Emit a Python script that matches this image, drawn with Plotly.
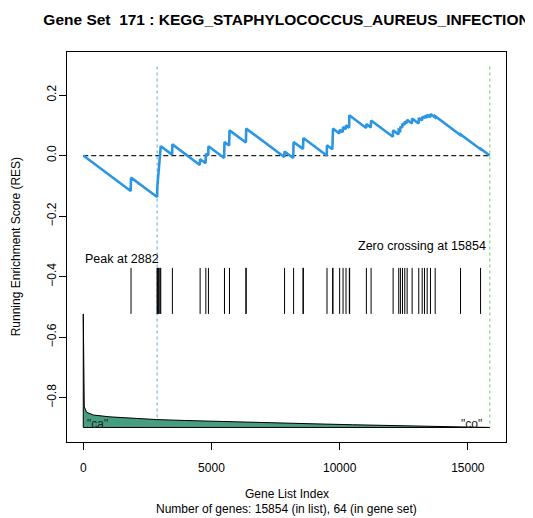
import plotly.graph_objects as go

# ---------------- data ----------------
n_genes = 15854
n_in_set = 64
peak_index = 2882
zero_cross = 15854

# running enrichment score vertices (gene index, RES)
res_x = [0, 1850, 1863, 2882, 2890, 2960, 3023, 3465, 3476, 4545, 4558, 4770, 4781,
         4875, 4883, 5495, 5508, 5690, 5703, 6343, 6355, 7840, 7851, 8190, 8203,
         8570, 8585, 9495, 9507, 9715, 9726, 9740, 9990, 10000, 10120, 10132, 10240,
         10249, 10370, 10378, 11035, 11043, 11215, 11226, 12075, 12085, 12295, 12304,
         12360, 12370, 12440, 12450, 12530, 12540, 12620, 12632, 12820, 12827, 13080,
         13085, 13210, 13218, 13300, 13308, 13405, 13413, 13535, 13542, 13720, 13726,
         14705, 14715, 15490, 15496, 15854]
res_y = [0.0, -0.117, -0.073, -0.137, -0.103, -0.037, 0.031, 0.003, 0.037, -0.031,
         -0.012, -0.025, 0.006, 0.000, 0.031, -0.008, 0.045, 0.033, 0.083, 0.043,
         0.089, -0.005, 0.013, -0.008, 0.045, 0.022, 0.058, 0.000, 0.034, 0.021,
         0.045, 0.089, 0.073, 0.085, 0.077, 0.094, 0.087, 0.100, 0.092, 0.133,
         0.091, 0.104, 0.093, 0.116, 0.062, 0.083, 0.070, 0.085, 0.082, 0.096,
         0.092, 0.106, 0.101, 0.112, 0.107, 0.118, 0.106, 0.122, 0.106, 0.124,
         0.116, 0.128, 0.123, 0.131, 0.125, 0.135, 0.127, 0.137, 0.126, 0.130,
         0.068, 0.070, 0.021, 0.0227, 0.0]

# positions of gene-set members in the ranked list
hit_index = [1863, 2883, 2890, 2930, 2960, 3000, 3023, 3476, 4558, 4781, 4883, 5508,
             5703, 6343, 6355, 7851, 8203, 8570, 8585, 9507, 9726, 9740, 10000, 10132,
             10249, 10378, 10390, 11043, 11226, 12085, 12304, 12370, 12450, 12540,
             12632, 12827, 13085, 13218, 13308, 13413, 13542, 13726, 14715, 15496]
hit_top = -0.371
hit_bottom = -0.523

# ranked-list metric profile (scaled to the plot's y units)
metric_x = [0, 10, 40, 130, 400, 1043, 2000, 2867, 4000, 5500, 7293, 9000, 10500,
            12490, 14000, 15854]
metric_y = [-0.523, -0.78, -0.83, -0.848, -0.857, -0.863, -0.868, -0.872, -0.875,
            -0.879, -0.883, -0.886, -0.889, -0.892, -0.894, -0.897]
metric_base = -0.898

vline_top = 0.294

x_ticks = [0, 5000, 10000, 15000]
y_ticks = [0.2, 0.0, -0.2, -0.4, -0.6, -0.8]
y_tick_text = ["0.2", "0.0", "\u22120.2", "\u22120.4", "\u22120.6", "\u22120.8"]

title_text = "Gene Set \u00a0171 : KEGG_STAPHYLOCOCCUS_AUREUS_INFECTION"
class_a = '"ca"'
class_b = '"co"'

FONT = "Liberation Sans, Arial, Helvetica, sans-serif"

# page offset of the plot div (browser body margin)
OFF = 8
W, H = 533 - OFF, 518 - OFF
PLOT_L, PLOT_R, PLOT_T, PLOT_B = 66.7, 506.0, 51.5, 442.4   # page pixels
plot_w = PLOT_R - PLOT_L
plot_h = PLOT_B - PLOT_T

fig = go.Figure()

fig.add_trace(go.Scatter(x=[peak_index, peak_index], y=[vline_top, metric_base],
                         mode="lines", line=dict(color="#86bbec", width=1.3, dash="dot"),
                         hoverinfo="skip"))
fig.add_trace(go.Scatter(x=[zero_cross, zero_cross], y=[vline_top, metric_base],
                         mode="lines", line=dict(color="#8fd98a", width=1.3, dash="dot"),
                         hoverinfo="skip"))

fig.add_trace(go.Scatter(x=[0, n_genes], y=[0, 0], mode="lines",
                         line=dict(color="#222222", width=1.3, dash="5px,3px"),
                         hoverinfo="skip"))

fig.add_trace(go.Scatter(x=res_x, y=res_y, mode="lines",
                         line=dict(color="#2b97e3", width=2.6)))

bx, by = [], []
for h in hit_index:
    bx += [h, h, None]
    by += [hit_top, hit_bottom, None]
fig.add_trace(go.Scatter(x=bx, y=by, mode="lines",
                         line=dict(color="black", width=1), hoverinfo="skip"))

px_ = metric_x + [metric_x[-1], metric_x[0], metric_x[0]]
py_ = metric_y + [metric_base, metric_base, metric_y[0]]
fig.add_trace(go.Scatter(x=px_, y=py_, mode="lines", fill="toself",
                         fillcolor="#479d7f", line=dict(color="black", width=1)))

ann = [
    dict(x=0, y=-0.342, xref="x", yref="y", text="Peak at 2882", showarrow=False,
         xanchor="left", yanchor="middle", font=dict(size=12.5)),
    dict(x=15800, y=-0.299, xref="x", yref="y", text="Zero crossing at 15854",
         showarrow=False, xanchor="right", yanchor="middle", font=dict(size=12.5)),
    dict(x=60, y=-0.886, xref="x", yref="y", text=class_a, showarrow=False,
         xanchor="left", yanchor="middle", font=dict(size=12, color="#222")),
    dict(x=15640, y=-0.886, xref="x", yref="y", text=class_b, showarrow=False,
         xanchor="right", yanchor="middle", font=dict(size=12, color="#222")),
    dict(x=0.5, y=-(495 - PLOT_B) / plot_h, xref="paper", yref="paper",
         text="Gene List Index", showarrow=False, xanchor="center", yanchor="middle",
         font=dict(size=12)),
    dict(x=0.5, y=-(510 - PLOT_B) / plot_h, xref="paper", yref="paper",
         text="Number of genes: 15854 (in list), 64 (in gene set)", showarrow=False,
         xanchor="center", yanchor="middle", font=dict(size=12)),
    dict(x=-(PLOT_L - 16) / plot_w, y=0.5, xref="paper", yref="paper",
         text="Running Enrichment Score (RES)", showarrow=False, textangle=-90,
         xanchor="center", yanchor="middle", font=dict(size=12)),
]

fig.update_layout(
    width=W, height=H,
    margin=dict(l=PLOT_L - OFF, r=533 - PLOT_R, t=PLOT_T - OFF, b=518 - PLOT_B,
                pad=0, autoexpand=False),
    paper_bgcolor="white", plot_bgcolor="white",
    showlegend=False,
    font=dict(family=FONT, size=12, color="black"),
    title=dict(text="<b>" + title_text + "</b>", x=0.5, xref="paper",
               xanchor="center", y=1 - (20 - OFF) / H, yref="container",
               yanchor="middle", font=dict(size=15.5, family=FONT, color="black")),
    annotations=ann,
    xaxis=dict(range=[-634, 16488], tickvals=x_ticks, ticktext=[str(v) for v in x_ticks],
               ticks="outside", ticklen=7, tickwidth=1, tickcolor="black",
               showline=True, linecolor="black", linewidth=1, mirror=True,
               showgrid=False, zeroline=False, tickfont=dict(size=12),
               ticklabelstandoff=8),
    yaxis=dict(range=[-0.946, 0.342], tickvals=y_ticks, ticktext=y_tick_text,
               ticks="outside", ticklen=7, tickwidth=1, tickcolor="black",
               showline=True, linecolor="black", linewidth=1, mirror=True,
               showgrid=False, zeroline=False, tickangle=-90, tickfont=dict(size=12),
               ticklabelstandoff=-2),
)

fig.write_html("out.html")
